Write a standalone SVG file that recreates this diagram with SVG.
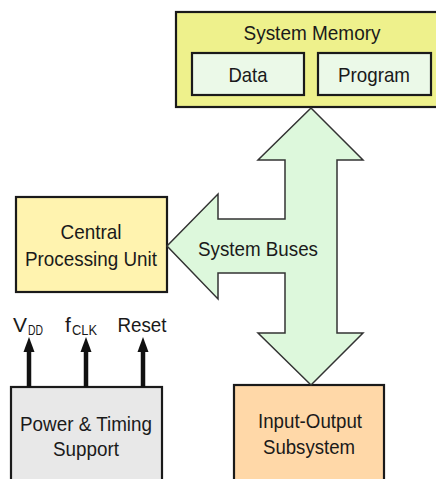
<svg xmlns="http://www.w3.org/2000/svg" width="436" height="479" viewBox="0 0 436 479">
<style>
text{font-family:"Liberation Sans",Arial,sans-serif;fill:#1a1a1a;font-size:21px;text-anchor:middle}
.box{stroke:#1a1a1a;stroke-width:2.2}
.sub{font-size:14px;text-anchor:start}
.sig{stroke:#111;stroke-width:4.5;fill:none}
</style>
<defs>
<marker id="ah" markerUnits="userSpaceOnUse" markerWidth="16" markerHeight="12" refX="7" refY="6" viewBox="0 0 16 12" orient="auto">
<path d="M15,6 L0,0.5 L0,11.5 Z" fill="#111"/>
</marker>
</defs>
<g id="memory">
<rect class="box" x="176" y="12" width="266" height="95" fill="#EEF18C"/>
<text x="312" y="40" textLength="137" lengthAdjust="spacingAndGlyphs">System Memory</text>
<g id="data">
<rect class="box" x="192" y="53" width="112" height="42" fill="#EBF9E8"/>
<text x="248" y="82" textLength="39" lengthAdjust="spacingAndGlyphs">Data</text>
</g>
<g id="program">
<rect class="box" x="318" y="53" width="113" height="42" fill="#EBF9E8"/>
<text x="374" y="82" textLength="72" lengthAdjust="spacingAndGlyphs">Program</text>
</g>
</g>
<g id="cpu">
<rect class="box" x="16" y="197" width="151" height="95" fill="#FFF3AF"/>
<text x="91" y="239" textLength="61" lengthAdjust="spacingAndGlyphs">Central</text>
<text x="91" y="266" textLength="132" lengthAdjust="spacingAndGlyphs">Processing Unit</text>
</g>
<g id="io">
<rect class="box" x="234" y="385" width="150" height="100" fill="#FFD8A8"/>
<text x="310" y="428" textLength="104" lengthAdjust="spacingAndGlyphs">Input-Output</text>
<text x="309" y="454" textLength="92" lengthAdjust="spacingAndGlyphs">Subsystem</text>
</g>
<g id="power">
<rect class="box" x="11" y="387" width="151" height="100" fill="#E8E8E8"/>
<text x="86" y="431" textLength="132" lengthAdjust="spacingAndGlyphs">Power &amp; Timing</text>
<text x="86" y="456" textLength="66" lengthAdjust="spacingAndGlyphs">Support</text>
</g>
<g id="connectors">
<g id="bus">
<polygon points="311,108 258,160 285,160 285,219 218,219 218,194 167,246 218,299 218,273 285,273 285,333 258,333 311,385 363,333 337,333 337,160 363,160" fill="#DDF8DC" stroke="#333" stroke-width="1.5" stroke-linejoin="miter"/>
<text x="258" y="256" textLength="120" lengthAdjust="spacingAndGlyphs">System Buses</text>
</g>
<g id="signals">
<line class="sig" x1="29" y1="387" x2="29" y2="345" marker-end="url(#ah)"/>
<line class="sig" x1="86" y1="387" x2="86" y2="345" marker-end="url(#ah)"/>
<line class="sig" x1="143" y1="387" x2="143" y2="345" marker-end="url(#ah)"/>
<text x="20" y="332" textLength="14" lengthAdjust="spacingAndGlyphs">V</text>
<text class="sub" x="28" y="335" textLength="15" lengthAdjust="spacingAndGlyphs">DD</text>
<text x="68" y="332">f</text>
<text class="sub" x="72" y="335" textLength="25" lengthAdjust="spacingAndGlyphs">CLK</text>
<text x="142" y="332" textLength="49" lengthAdjust="spacingAndGlyphs">Reset</text>
</g>
</g>
</svg>
